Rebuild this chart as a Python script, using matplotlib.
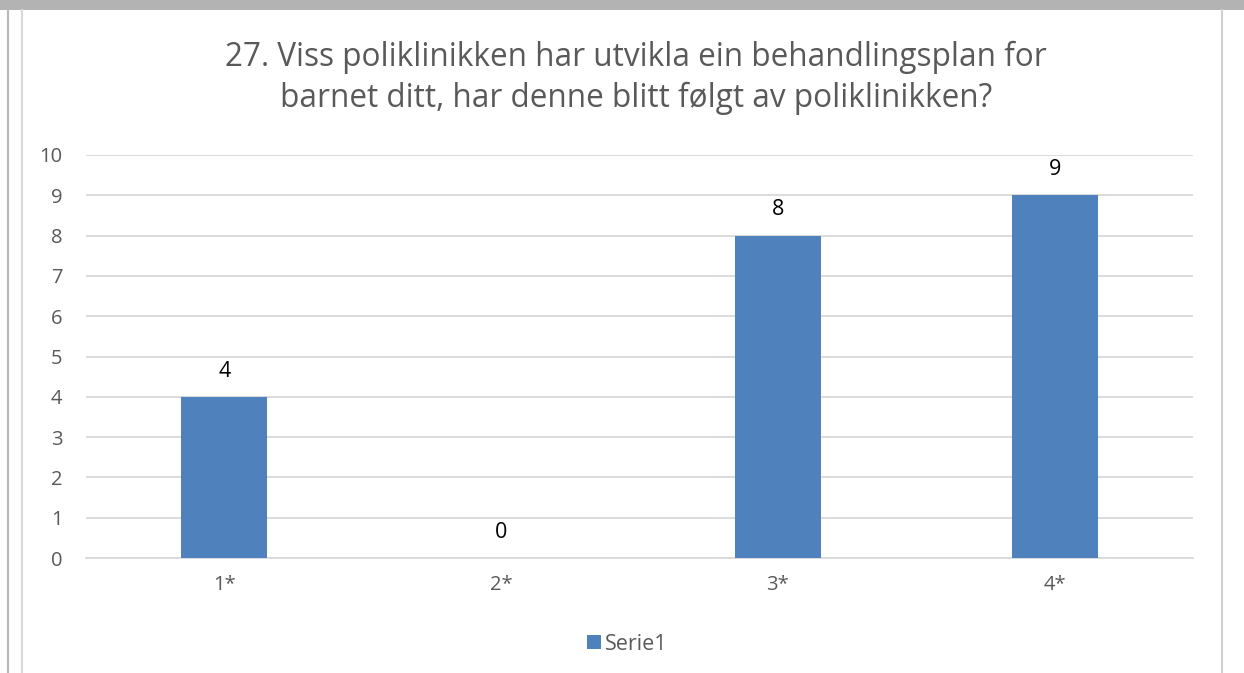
import matplotlib
matplotlib.use("Agg")
import matplotlib.pyplot as plt
from matplotlib.patches import Rectangle
from matplotlib.lines import Line2D

categories = ["1*", "2*", "3*", "4*"]
values = [4, 0, 8, 9]
series_name = "Serie1"
title = "27. Viss poliklinikken har utvikla ein behandlingsplan for\nbarnet ditt, har denne blitt følgt av poliklinikken?"
yticks = list(range(0, 11))

plt.rcParams['font.family'] = ['Open Sans', 'DejaVu Sans']

W, H = 1244, 673
fig = plt.figure(figsize=(W / 100, H / 100), dpi=100)
fig.patch.set_facecolor("white")

# top gray band and borders
fig.add_artist(Rectangle((0, 1 - 10 / H), 1, 10 / H, transform=fig.transFigure,
                         facecolor="#b3b3b3", edgecolor="none"))
for xpx, c in [(8, "#b8b8b8"), (22, "#d9d9d9"), (1222, "#d0d0d0")]:
    fig.add_artist(Line2D([xpx / W, xpx / W], [0, 1 - 10 / H], transform=fig.transFigure,
                          color=c, lw=1.5))

left, right = 86 / W, 1193 / W
bottom, top = 1 - 558 / H, 1 - 155 / H
ax = fig.add_axes([left, bottom, right - left, top - bottom])

x = list(range(len(categories)))
bars = ax.bar(x, values, width=0.31, color="#4f81bd", zorder=3)
ax.set_xlim(-0.5, len(categories) - 0.5)
ax.set_ylim(0, 10)
ax.set_yticks(yticks)
ax.set_xticks(x)
ax.set_xticklabels(categories)
ax.grid(axis="y", color="#d9d9d9", lw=1.3, zorder=0)
for s in ["top", "right", "left"]:
    ax.spines[s].set_visible(False)
ax.spines["bottom"].set_color("#d9d9d9")
ax.spines["bottom"].set_linewidth(1.3)
ax.tick_params(axis="both", length=0, colors="#595959", labelsize=14.5)
ax.tick_params(axis="y", pad=17)
ax.tick_params(axis="x", pad=12)

for xi, v in zip(x, values):
    ax.annotate(str(v), (xi, v), xytext=(0, 11), textcoords="offset points",
                ha="center", va="bottom", fontsize=15.5, color="black")

fig.text(0.5 * (left + right) - 0.003, 1 - 78 / H, title, ha="center", va="center",
         fontsize=22.7, color="#595959", linespacing=1.32)

handle = Rectangle((0, 0), 1, 1, facecolor="#4f81bd")
fig.legend([handle], [series_name], loc="center", bbox_to_anchor=(627 / W, 1 - 644 / H),
           frameon=False, fontsize=15.5, handlelength=0.65, handleheight=0.65,
           handletextpad=0.2, labelcolor="#595959")

fig.savefig("out.png", dpi=100)
